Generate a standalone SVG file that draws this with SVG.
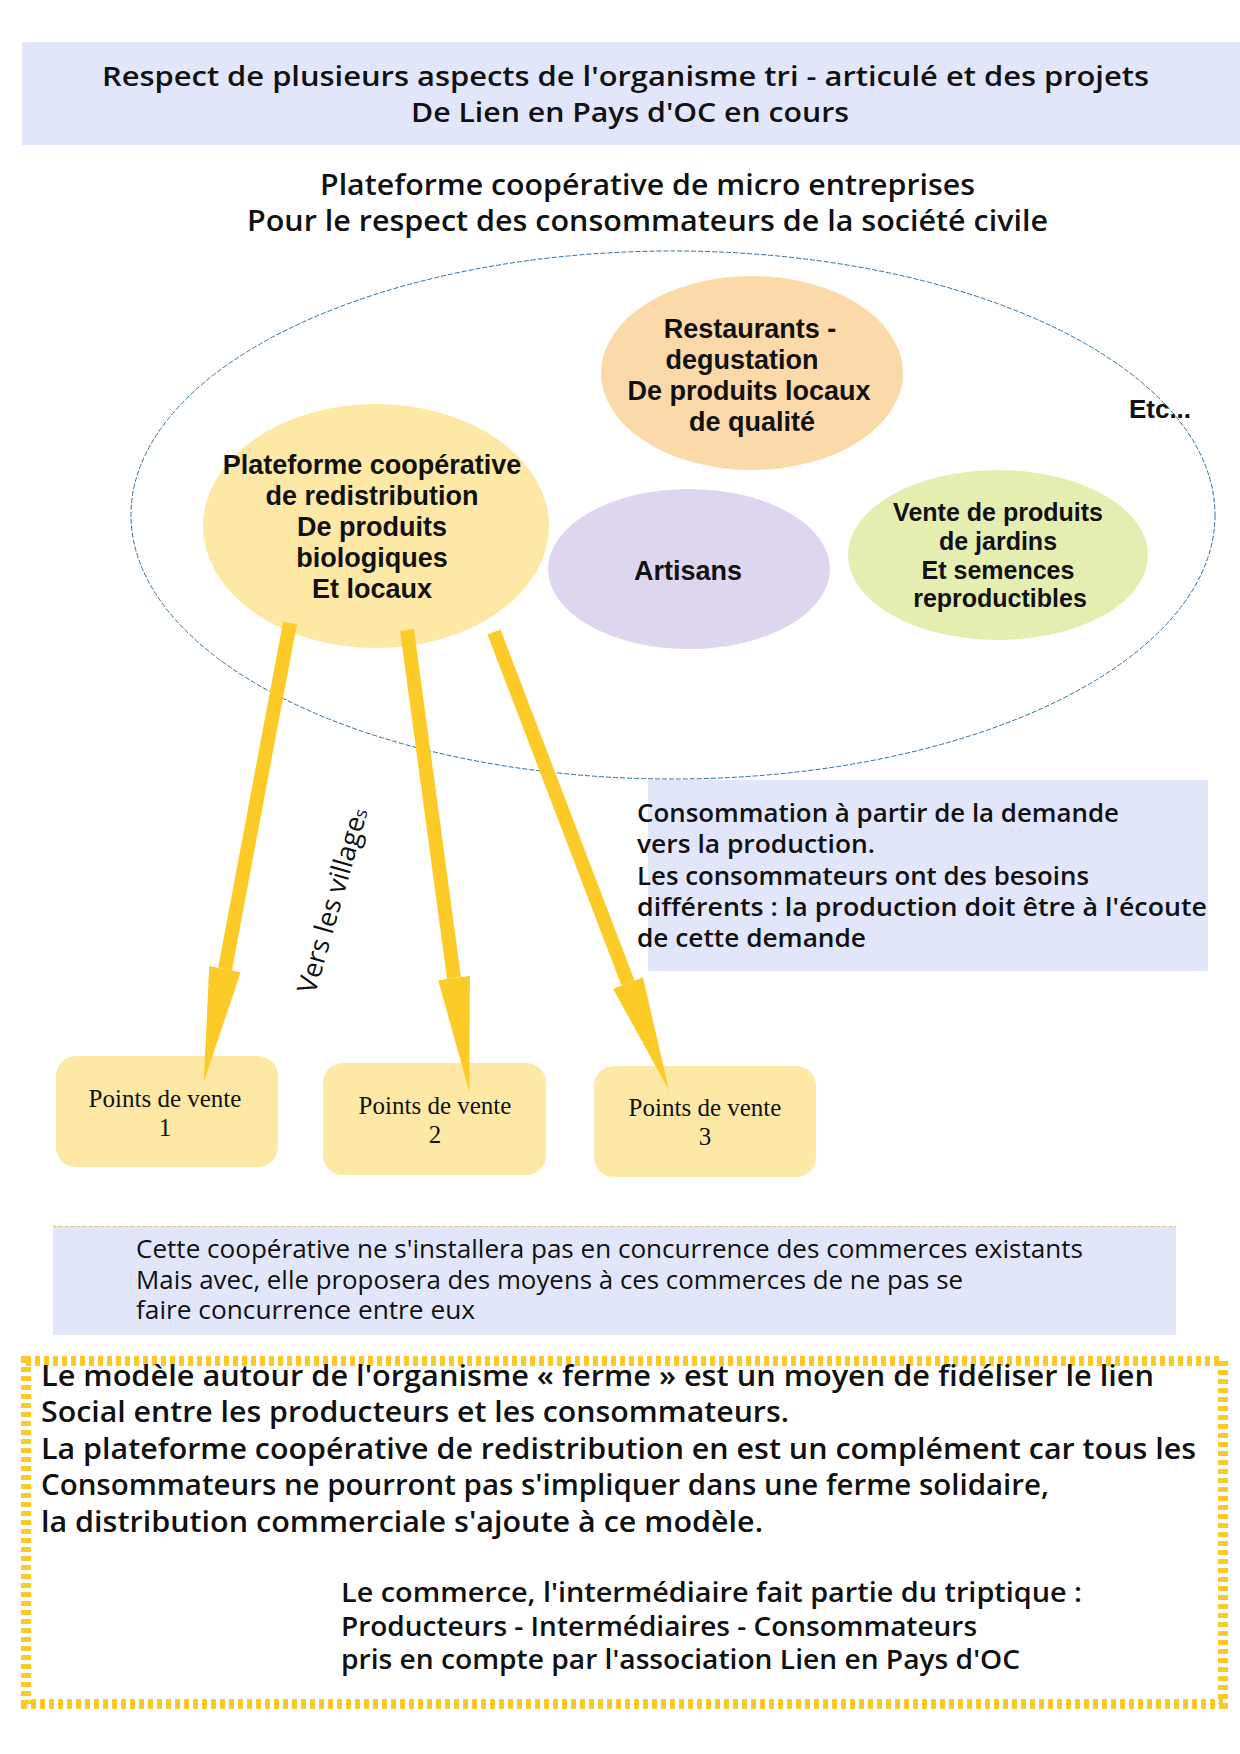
<svg xmlns="http://www.w3.org/2000/svg" width="1240" height="1754" viewBox="0 0 1240 1754">
<defs>
<style>
.bg{fill:#ffffff}
.band{fill:#e2e6fb}
.t{font-family:"Open Sans","DejaVu Sans",sans-serif;font-weight:600;fill:#111}
.tr{font-family:"Open Sans","DejaVu Sans",sans-serif;font-weight:400;fill:#111}
.a{font-family:"Liberation Sans",Arial,sans-serif;font-weight:bold;fill:#111;text-anchor:middle}
.s{font-family:"Liberation Serif","Times New Roman",serif;font-size:25px;fill:#111;text-anchor:middle}
.pv{fill:#fde8a6}
.arrow{stroke:#fccb27;stroke-width:14;fill:none;marker-end:url(#head)}
</style>
<marker id="head" markerUnits="userSpaceOnUse" viewBox="0 -16 115 32" markerWidth="115" markerHeight="32" refX="0" refY="0" orient="auto">
<path d="M0,-16 L115,0 L0,16 Z" fill="#fccb27"/>
</marker>
</defs>
<rect class="bg" x="0" y="0" width="1240" height="1754"/>

<g id="header">
<rect class="band" x="22" y="42" width="1218" height="103"/>
<text class="t" font-size="27" x="102" y="86" textLength="1047" lengthAdjust="spacingAndGlyphs">Respect de plusieurs aspects  de l'organisme tri - articulé et des projets</text>
<text class="t" font-size="27" x="411" y="122" textLength="438" lengthAdjust="spacingAndGlyphs">De Lien en Pays d'OC en cours</text>
</g>

<g id="title">
<text class="t" font-size="28" x="320" y="195" textLength="655" lengthAdjust="spacingAndGlyphs">Plateforme coopérative de micro entreprises</text>
<text class="t" font-size="28" x="247" y="231" textLength="801" lengthAdjust="spacingAndGlyphs">Pour le respect des consommateurs de la société civile</text>
</g>

<g id="restaurants">
<ellipse cx="752" cy="373" rx="151" ry="97" fill="#fbd9a8"/>
<text class="a" font-size="27" x="750" y="338">Restaurants -</text>
<text class="a" font-size="27" x="742" y="369">degustation</text>
<text class="a" font-size="27" x="749" y="400">De produits locaux</text>
<text class="a" font-size="27" x="752" y="431">de qualité</text>
</g>

<g id="plateforme">
<ellipse cx="376" cy="526" rx="173" ry="122" fill="#fde8a6"/>
<text class="a" font-size="27" x="372" y="474">Plateforme coopérative</text>
<text class="a" font-size="27" x="372" y="505">de redistribution</text>
<text class="a" font-size="27" x="372" y="536">De produits</text>
<text class="a" font-size="27" x="372" y="567">biologiques</text>
<text class="a" font-size="27" x="372" y="598">Et locaux</text>
</g>

<g id="artisans">
<ellipse cx="689" cy="569" rx="141" ry="80" fill="#ddd6ee"/>
<text class="a" font-size="27" x="688" y="580">Artisans</text>
</g>

<g id="vente">
<ellipse cx="998" cy="555" rx="150" ry="85" fill="#e5edb1"/>
<text class="a" font-size="25" x="998" y="521">Vente de produits</text>
<text class="a" font-size="25" x="998" y="550">de jardins</text>
<text class="a" font-size="25" x="998" y="579">Et semences</text>
<text class="a" font-size="25" x="1000" y="607">reproductibles</text>
</g>

<g id="etc">
<text class="a" font-size="26" x="1160" y="418">Etc...</text>
</g>

<g id="consommation">
<rect class="band" x="648" y="780" width="560" height="191"/>
<text class="t" font-size="25" x="637" y="822" textLength="482" lengthAdjust="spacingAndGlyphs">Consommation à partir de la demande</text>
<text class="t" font-size="25" x="637" y="853" textLength="238" lengthAdjust="spacingAndGlyphs">vers la production.</text>
<text class="t" font-size="25" x="637" y="885" textLength="452" lengthAdjust="spacingAndGlyphs">Les consommateurs ont des besoins</text>
<text class="t" font-size="25" x="637" y="916" textLength="570" lengthAdjust="spacingAndGlyphs">différents : la production doit être à l'écoute</text>
<text class="t" font-size="25" x="637" y="947" textLength="229" lengthAdjust="spacingAndGlyphs">de cette demande</text>
</g>

<g id="pv1">
<rect class="pv" x="56" y="1056" width="222" height="111" rx="20"/>
<text class="s" x="165" y="1107">Points de vente</text>
<text class="s" x="165" y="1136">1</text>
</g>
<g id="pv2">
<rect class="pv" x="323" y="1063" width="223" height="112" rx="20"/>
<text class="s" x="435" y="1114">Points de vente</text>
<text class="s" x="435" y="1143">2</text>
</g>
<g id="pv3">
<rect class="pv" x="594" y="1066" width="222" height="111" rx="20"/>
<text class="s" x="705" y="1116">Points de vente</text>
<text class="s" x="705" y="1145">3</text>
</g>

<g id="ensemble">
<ellipse cx="673" cy="515" rx="542" ry="264" fill="none" stroke="#2e6f9e" stroke-width="1" stroke-dasharray="5 2"/>
</g>

<g id="connectors">
<line class="arrow" x1="290" y1="623" x2="225" y2="969"/>
<line class="arrow" x1="407" y1="630" x2="454" y2="978"/>
<line class="arrow" x1="494" y1="632" x2="628" y2="983"/>
<text font-family="'Open Sans','DejaVu Sans',sans-serif" font-size="27" fill="#111" transform="translate(315,995) rotate(-74)">Vers les village<tspan font-size="18">s</tspan></text>
</g>

<g id="cooperative-note">
<rect class="band" x="53" y="1226" width="1123" height="109"/>
<line x1="53" y1="1226.5" x2="1176" y2="1226.5" stroke="#f0c33c" stroke-width="1" stroke-dasharray="3 3"/>
<text class="tr" font-size="25" x="136" y="1258" textLength="947" lengthAdjust="spacingAndGlyphs">Cette coopérative ne s'installera pas en concurrence des commerces existants</text>
<text class="tr" font-size="25" x="136" y="1289" textLength="827" lengthAdjust="spacingAndGlyphs">Mais avec, elle proposera des moyens à ces commerces de ne pas se</text>
<text class="tr" font-size="25" x="136" y="1319" textLength="339" lengthAdjust="spacingAndGlyphs">faire concurrence entre eux</text>
</g>

<g id="modele">
<rect x="26" y="1361" width="1197" height="343" fill="none" stroke="#fcc928" stroke-width="10" stroke-dasharray="5 4"/>
<text class="t" font-size="28" x="41" y="1386" textLength="1113" lengthAdjust="spacingAndGlyphs">Le modèle autour de l'organisme « ferme » est un moyen de fidéliser le lien</text>
<text class="t" font-size="28" x="41" y="1422" textLength="748" lengthAdjust="spacingAndGlyphs">Social entre les producteurs et les consommateurs.</text>
<text class="t" font-size="28" x="41" y="1459" textLength="1155" lengthAdjust="spacingAndGlyphs">La plateforme coopérative de redistribution en est un complément car tous les</text>
<text class="t" font-size="28" x="41" y="1495" textLength="1008" lengthAdjust="spacingAndGlyphs">Consommateurs ne pourront pas s'impliquer dans une ferme solidaire,</text>
<text class="t" font-size="28" x="41" y="1532" textLength="722" lengthAdjust="spacingAndGlyphs">la distribution commerciale s'ajoute à ce modèle.</text>
<text class="t" font-size="27" x="341" y="1602" textLength="741" lengthAdjust="spacingAndGlyphs">Le commerce, l'intermédiaire fait partie du triptique :</text>
<text class="t" font-size="27" x="341" y="1636" textLength="636" lengthAdjust="spacingAndGlyphs">Producteurs - Intermédiaires - Consommateurs</text>
<text class="t" font-size="27" x="341" y="1669" textLength="679" lengthAdjust="spacingAndGlyphs">pris en compte par l'association Lien en Pays d'OC</text>
</g>
</svg>
